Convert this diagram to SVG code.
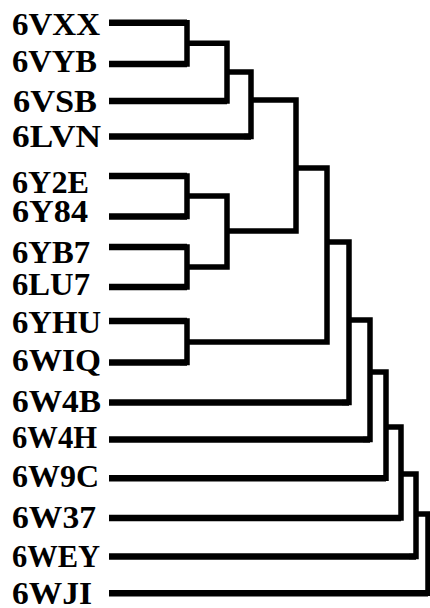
<svg xmlns="http://www.w3.org/2000/svg" width="430" height="608" viewBox="0 0 430 608">
<style>
.lbl{font-family:"Liberation Serif","Times New Roman",serif;font-weight:bold;font-size:32px;fill:#000}
.leaf{stroke:#000;stroke-width:6.5;fill:none}
.br{stroke:#000;stroke-width:5.5;fill:none;stroke-linejoin:miter}
</style>
<rect width="430" height="608" fill="#fff"/>
<g id="labels">
<g id="n-6VXX"><text class="lbl" x="12" y="35" textLength="88" lengthAdjust="spacingAndGlyphs">6VXX</text></g>
<g id="n-6VYB"><text class="lbl" x="12" y="72" textLength="85" lengthAdjust="spacingAndGlyphs">6VYB</text></g>
<g id="n-6VSB"><text class="lbl" x="13" y="112" textLength="84" lengthAdjust="spacingAndGlyphs">6VSB</text></g>
<g id="n-6LVN"><text class="lbl" x="12" y="147" textLength="89" lengthAdjust="spacingAndGlyphs">6LVN</text></g>
<g id="n-6Y2E"><text class="lbl" x="12" y="193" textLength="77" lengthAdjust="spacingAndGlyphs">6Y2E</text></g>
<g id="n-6Y84"><text class="lbl" x="12" y="222" textLength="76" lengthAdjust="spacingAndGlyphs">6Y84</text></g>
<g id="n-6YB7"><text class="lbl" x="12" y="263" textLength="78" lengthAdjust="spacingAndGlyphs">6YB7</text></g>
<g id="n-6LU7"><text class="lbl" x="12" y="295" textLength="78" lengthAdjust="spacingAndGlyphs">6LU7</text></g>
<g id="n-6YHU"><text class="lbl" x="12" y="333" textLength="89" lengthAdjust="spacingAndGlyphs">6YHU</text></g>
<g id="n-6WIQ"><text class="lbl" x="12" y="371" textLength="89" lengthAdjust="spacingAndGlyphs">6WIQ</text></g>
<g id="n-6W4B"><text class="lbl" x="12" y="412" textLength="89" lengthAdjust="spacingAndGlyphs">6W4B</text></g>
<g id="n-6W4H"><text class="lbl" x="12" y="448" textLength="85" lengthAdjust="spacingAndGlyphs">6W4H</text></g>
<g id="n-6W9C"><text class="lbl" x="12" y="487" textLength="87" lengthAdjust="spacingAndGlyphs">6W9C</text></g>
<g id="n-6W37"><text class="lbl" x="12" y="528" textLength="84" lengthAdjust="spacingAndGlyphs">6W37</text></g>
<g id="n-6WEY"><text class="lbl" x="12" y="567" textLength="88" lengthAdjust="spacingAndGlyphs">6WEY</text></g>
<g id="n-6WJI"><text class="lbl" x="12" y="604" textLength="80" lengthAdjust="spacingAndGlyphs">6WJI</text></g>
</g>
<g id="connectors">
<g id="leaves">
<line class="leaf" x1="109" y1="22.7" x2="187" y2="22.7"/>
<line class="leaf" x1="109" y1="64" x2="187" y2="64"/>
<line class="leaf" x1="109" y1="101" x2="227" y2="101"/>
<line class="leaf" x1="109" y1="136.5" x2="251" y2="136.5"/>
<line class="leaf" x1="109" y1="176" x2="187" y2="176"/>
<line class="leaf" x1="109" y1="216.5" x2="187" y2="216.5"/>
<line class="leaf" x1="109" y1="247" x2="187" y2="247"/>
<line class="leaf" x1="109" y1="287" x2="187" y2="287"/>
<line class="leaf" x1="109" y1="321" x2="187" y2="321"/>
<line class="leaf" x1="109" y1="362.5" x2="187" y2="362.5"/>
<line class="leaf" x1="109" y1="402.5" x2="349" y2="402.5"/>
<line class="leaf" x1="109" y1="439.5" x2="370" y2="439.5"/>
<line class="leaf" x1="109" y1="478.3" x2="386" y2="478.3"/>
<line class="leaf" x1="109" y1="518" x2="401" y2="518"/>
<line class="leaf" x1="109" y1="556.5" x2="416" y2="556.5"/>
<line class="leaf" x1="109" y1="593.3" x2="428" y2="593.3"/>
</g>
<g id="brackets">
<path class="br" d="M180,22.7 H187 V64 H180"/>
<path class="br" d="M187,43.3 H227 V101 H220"/>
<path class="br" d="M227,72 H251 V136.5 H244"/>
<path class="br" d="M180,176 H187 V216.5 H180"/>
<path class="br" d="M180,247 H187 V287 H180"/>
<path class="br" d="M187,196 H227 V267 H187"/>
<path class="br" d="M251,100 H296 V231 H227"/>
<path class="br" d="M180,321 H187 V362.5 H180"/>
<path class="br" d="M296,168 H327 V342 H187"/>
<path class="br" d="M327,242 H349 V402.5 H342"/>
<path class="br" d="M349,320 H370 V439.5 H363"/>
<path class="br" d="M370,372 H386 V478.3 H379"/>
<path class="br" d="M386,427 H401 V518 H394"/>
<path class="br" d="M401,474 H416 V556.5 H409"/>
<path class="br" d="M416,514 H428 V593.3 H421"/>
</g>
</g>
</svg>
